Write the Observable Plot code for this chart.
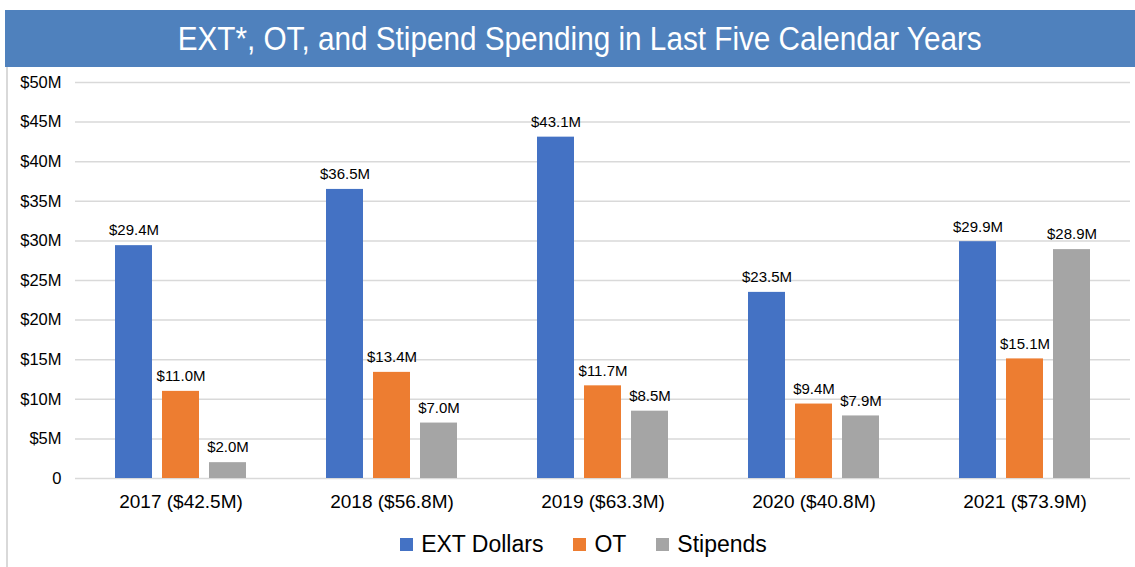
<!DOCTYPE html>
<html><head><meta charset="utf-8">
<script src="https://cdn.jsdelivr.net/npm/d3@7"></script>
<script src="https://cdn.jsdelivr.net/npm/@observablehq/plot@0.6"></script>
<style>
body{margin:0;background:#fff;width:1135px;height:567px;overflow:hidden;position:relative;font-family:"Liberation Sans",Arial,sans-serif;}
#title{position:absolute;left:5px;top:10px;width:1110px;padding-left:20px;height:57px;background:#4F81BD;color:#fff;font-family:"Liberation Sans Narrow","Liberation Sans",sans-serif;font-size:33px;display:flex;align-items:center;justify-content:center;}
#title span{display:inline-block;transform:scaleX(0.9);white-space:nowrap;}
#border{position:absolute;left:6px;top:67px;width:2px;height:500px;background:#d9d9d9;}
#chart{position:absolute;left:0;top:67px;}
#legend{position:absolute;left:0;top:531px;width:1103px;padding-left:32px;display:flex;justify-content:center;gap:30px;font-size:23px;color:#000;}
#legend span.item{display:flex;align-items:center;}
#legend span.sw{display:inline-block;width:13px;height:13px;margin-right:8px;}
</style></head>
<body>
<div id="title"><span>EXT*, OT, and Stipend Spending in Last Five Calendar Years</span></div>
<div id="border"></div>
<div id="chart"></div>
<div id="legend"></div>
<script>
const years = ["2017 ($42.5M)", "2018 ($56.8M)", "2019 ($63.3M)", "2020 ($40.8M)", "2021 ($73.9M)"];
const series = ["EXT Dollars", "OT", "Stipends"];
const colors = ["#4472C4", "#ED7D31", "#A5A5A5"];
const extDollars = [29.4, 36.5, 43.1, 23.5, 29.9];
const ot = [11.0, 13.4, 11.7, 9.4, 15.1];
const stipends = [2.0, 7.0, 8.5, 7.9, 28.9];
const yTicks = [0, 5, 10, 15, 20, 25, 30, 35, 40, 45, 50];

const values = [extDollars, ot, stipends];
const data = [];
years.forEach((yr, i) => series.forEach((s, j) => data.push({year: yr, series: s, value: values[j][i]})));

const chart = Plot.plot({
  width: 1135,
  height: 455,
  marginTop: 15,
  marginBottom: 44,
  marginLeft: 74,
  marginRight: 4,
  style: {fontFamily: '"Liberation Sans", Arial, sans-serif', background: "transparent"},
  fx: {domain: years, padding: 0, label: null, axis: null},
  x: {domain: series, paddingInner: 0.213, paddingOuter: 0.85, axis: null},
  y: {domain: [0, 50], ticks: yTicks, axis: null},
  color: {domain: series, range: colors},
  marks: [
    Plot.ruleY(yTicks, {y: d => d, stroke: "#d9d9d9", strokeWidth: 1.5}),
    Plot.axisY({ticks: yTicks, tickSize: 0, tickPadding: 14, fontSize: 16.5, label: null,
      tickFormat: d => d === 0 ? "0" : `$${d}M`, facetAnchor: "left", fill: "#000"}),
    Plot.axisFx({anchor: "bottom", tickSize: 0, tickPadding: 16, fontSize: 19, label: null, fill: "#000"}),
    Plot.barY(data, {fx: "year", x: "series", y: "value", fill: "series"}),
    Plot.text(data, {fx: "year", x: "series", y: "value", text: d => `$${d.value.toFixed(1)}M`, dy: -15, fontSize: 15, fill: "#000"})
  ]
});
document.getElementById("chart").appendChild(chart);

const legend = document.getElementById("legend");
series.forEach((s, j) => {
  const item = document.createElement("span");
  item.className = "item";
  const sw = document.createElement("span");
  sw.className = "sw";
  sw.style.background = colors[j];
  item.appendChild(sw);
  item.appendChild(document.createTextNode(s));
  legend.appendChild(item);
});
</script>
</body></html>
